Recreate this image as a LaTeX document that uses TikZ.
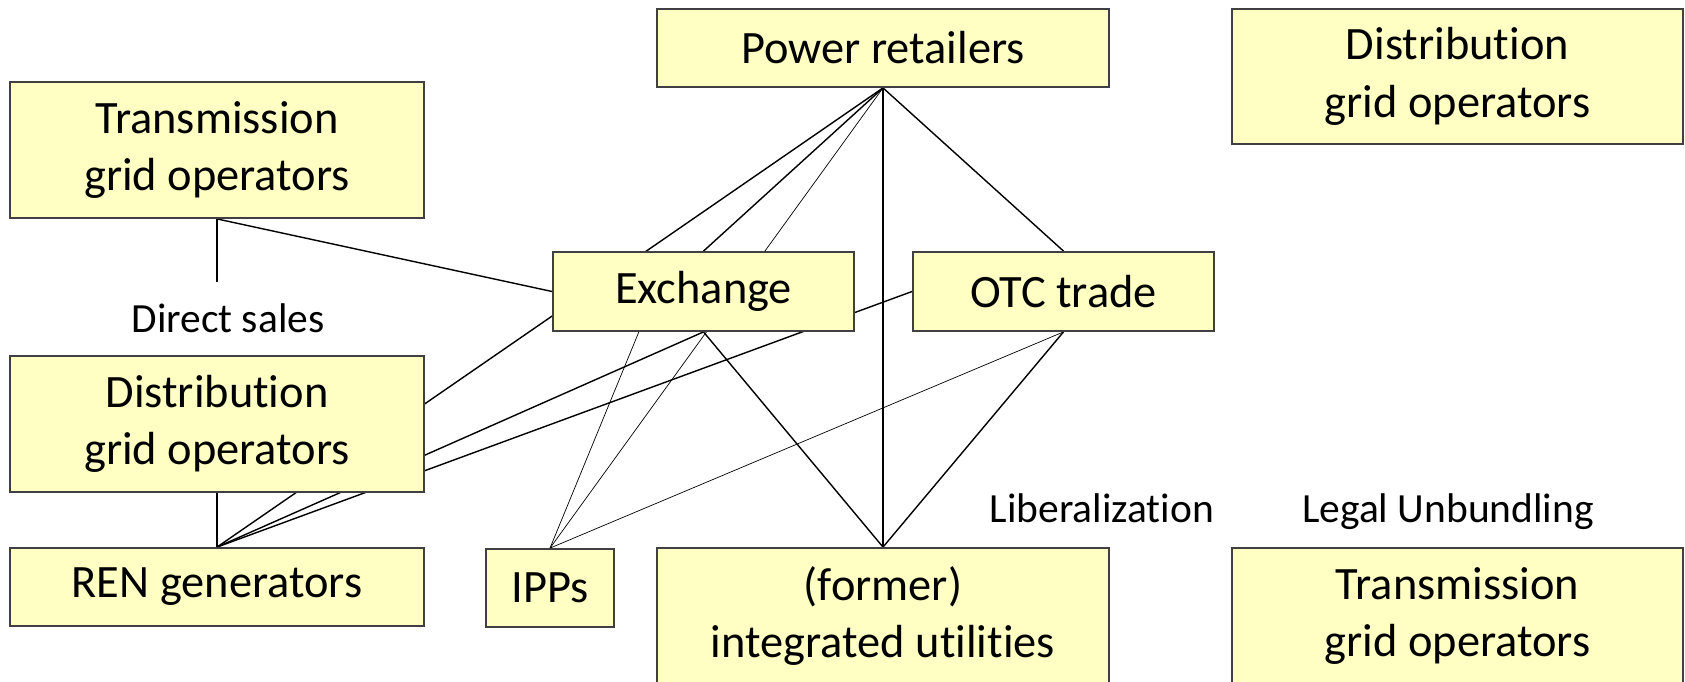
\documentclass[tikz,border=0pt]{standalone}
\usepackage{fontspec}
\setmainfont{Carlito}[Ligatures=NoCommon]
\usetikzlibrary{backgrounds}
\definecolor{boxyellow}{RGB}{255,255,196}
\definecolor{boxedge}{RGB}{64,64,64}

\begin{document}
\begin{tikzpicture}[x=0.01cm,y=-0.01cm,
    box/.style={draw=boxedge,line width=0.5pt,fill=boxyellow,align=center,inner sep=0pt,
      font=\fontsize{13.2}{16.4}\selectfont},
    lbl/.style={font=\fontsize{11.8}{14}\selectfont,inner sep=1pt},
    link/.style={line width=0.4pt},
    thinlink/.style={line width=0.2pt}]
        \useasboundingbox (0,0) rectangle (1685,682);
        \clip (0,0) rectangle (1685,682);

        \node [box,minimum width=4.52cm,minimum height=0.78cm] (pr) at (883,48) {Power retailers};
        \node [box,minimum width=4.51cm,minimum height=1.35cm] (dsr) at (1457.5,76.5) {Distribution\\grid operators};
        \node [box,minimum width=4.14cm,minimum height=1.36cm] (trl) at (217,150) {Transmission\\grid operators};
        \node [box,minimum width=3.01cm,minimum height=0.79cm] (exch) at (703.5,291.5) {Exchange};
        \node [box,minimum width=3.01cm,minimum height=0.79cm] (otc) at (1063.5,291.5) {OTC trade};
        \node [box,minimum width=4.14cm,minimum height=1.36cm] (dsl) at (217,424) {Distribution\\grid operators};
        \node [box,minimum width=4.14cm,minimum height=0.78cm] (ren) at (217,587) {REN generators};
        \node [box,minimum width=1.28cm,minimum height=0.78cm] (ipp) at (550,588) {IPPs};
        \node [box,minimum width=4.52cm,minimum height=1.36cm] (util) at (883,616) {(former)\\integrated utilities};
        \node [box,minimum width=4.51cm,minimum height=1.36cm] (trr) at (1457.5,616) {Transmission\\grid operators};

        \node [lbl,fill=white,minimum height=0.73cm] (direct) at (228,318.5) {Direct sales};
        \node [lbl,anchor=base] (lib) at (1102,522) {Liberalization};
        \node [lbl,anchor=base] (unb) at (1448,522) {Legal Unbundling};

        \begin{pgfonlayer}{background}
        \draw [link] (trl.south) -- (ren.north);
        \draw [link] (trl.south) -- (exch.west);
        \draw [link] (pr.south) -- (ren.north);
        \draw [link] (pr.south) -- (exch.north);
        \draw [link] (pr.south) -- (util.north);
        \draw [link] (pr.south) -- (otc.north);
        \draw [link] (ren.north) -- (exch.south);
        \draw [link] (ren.north) -- (otc.west);
        \draw [link] (exch.south) -- (util.north);
        \draw [link] (otc.south) -- (util.north);
        \draw [thinlink] (pr.south) -- (ipp.north);
        \draw [thinlink] (ipp.north) -- (exch.212);
        \draw [thinlink] (ipp.north) -- (otc.south);
        \end{pgfonlayer}
    \end{tikzpicture}
\end{document}
